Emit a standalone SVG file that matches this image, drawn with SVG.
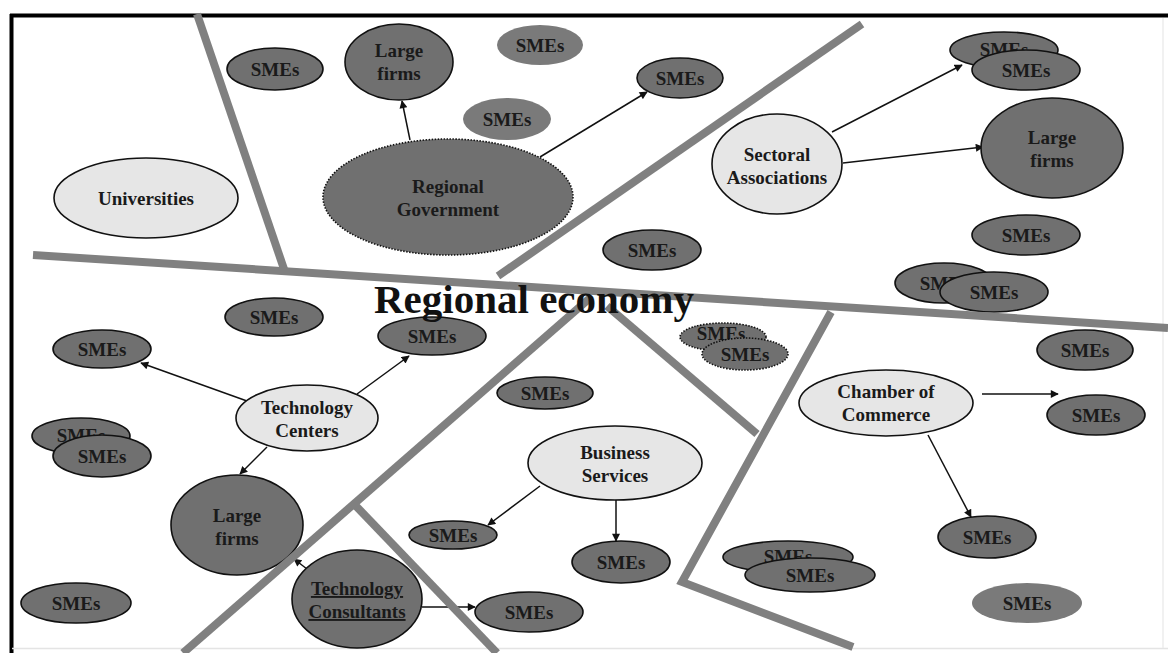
<svg xmlns="http://www.w3.org/2000/svg" width="1168" height="653" viewBox="0 0 1168 653">
<defs>
<marker id="ah" viewBox="0 0 10 10" refX="9" refY="5" markerWidth="9" markerHeight="8" markerUnits="userSpaceOnUse" orient="auto"><path d="M0,0 L10,5 L0,10 z" fill="#111"/></marker>
<style>
.d{fill:#707070;stroke:#111;stroke-width:1.6}
.dn{fill:#7a7a7a;stroke:none}
.dd{fill:#707070;stroke:#111;stroke-width:1.6;stroke-dasharray:1.5 1.5}
.l{fill:#e6e6e6;stroke:#111;stroke-width:1.6}
.t{font-family:"Liberation Serif","Times New Roman",serif;font-weight:bold;font-size:19px;fill:#1a1a1a;text-anchor:middle}
.p{stroke:#808080;stroke-width:8;fill:none;stroke-linecap:butt}
.c{stroke:#111;stroke-width:1.5;fill:none;marker-end:url(#ah)}
</style>
</defs>
<rect width="1168" height="653" fill="#fff"/>
<g id="frame">
<line x1="10" y1="15.5" x2="1168" y2="15.5" stroke="#000" stroke-width="4"/>
<line x1="11.5" y1="14" x2="11.5" y2="653" stroke="#000" stroke-width="4"/>
<line x1="12" y1="648.5" x2="1168" y2="648.5" stroke="#e4e4e4" stroke-width="1.5"/>
<line x1="1163" y1="18" x2="1163" y2="648" stroke="#ececec" stroke-width="1.5"/>
</g>
<g id="connectors">
<line class="c" x1="410" y1="140" x2="402" y2="101"/>
<line class="c" x1="540" y1="157" x2="647" y2="92"/>
<line class="c" x1="832" y1="132" x2="962" y2="65"/>
<line class="c" x1="843" y1="163" x2="983" y2="147"/>
<line class="c" x1="247" y1="401" x2="141" y2="363"/>
<line class="c" x1="357" y1="394" x2="409" y2="356"/>
<line class="c" x1="267" y1="447" x2="240" y2="474"/>
<line class="c" x1="307" y1="569" x2="294" y2="559"/>
<line class="c" x1="422" y1="607" x2="475" y2="607"/>
<line class="c" x1="540" y1="486" x2="488" y2="525"/>
<line class="c" x1="616" y1="500" x2="616" y2="541"/>
<line class="c" x1="982" y1="394" x2="1058" y2="394"/>
<line class="c" x1="928" y1="435" x2="971" y2="517"/>
</g>
<g id="n-universities"><ellipse class="l" cx="146" cy="198" rx="92" ry="40"/><text class="t" x="146" y="205">Universities</text></g>
<g id="n-smes-1"><ellipse class="d" cx="275" cy="69" rx="48" ry="21"/><text class="t" x="275" y="76">SMEs</text></g>
<g id="n-large-1"><ellipse class="d" cx="399" cy="62" rx="54" ry="38"/><text class="t" x="399" y="57">Large</text><text class="t" x="399" y="80">firms</text></g>
<g id="n-smes-2"><ellipse class="dn" cx="540" cy="45" rx="43" ry="20"/><text class="t" x="540" y="52">SMEs</text></g>
<g id="n-smes-3"><ellipse class="d" cx="680" cy="78" rx="43" ry="20"/><text class="t" x="680" y="85">SMEs</text></g>
<g id="n-smes-4"><ellipse class="dn" cx="507" cy="119" rx="44" ry="21"/><text class="t" x="507" y="126">SMEs</text></g>
<g id="n-regional-government"><ellipse class="dd" cx="448" cy="197" rx="125" ry="58"/><text class="t" x="448" y="193">Regional</text><text class="t" x="448" y="216">Government</text></g>
<g id="n-smes-5"><ellipse class="d" cx="652" cy="250" rx="49" ry="20"/><text class="t" x="652" y="257">SMEs</text></g>
<g id="n-sectoral"><ellipse class="l" cx="777" cy="164" rx="65" ry="50"/><text class="t" x="777" y="161">Sectoral</text><text class="t" x="777" y="184">Associations</text></g>
<g id="n-smes-6"><ellipse class="d" cx="1004" cy="50" rx="54" ry="18"/><text class="t" x="1004" y="56">SMEs</text><ellipse class="d" cx="1026" cy="70" rx="54" ry="20"/><text class="t" x="1026" y="77">SMEs</text></g>
<g id="n-large-2"><ellipse class="d" cx="1052" cy="148" rx="71" ry="50"/><text class="t" x="1052" y="144">Large</text><text class="t" x="1052" y="167">firms</text></g>
<g id="n-smes-7"><ellipse class="d" cx="1026" cy="235" rx="54" ry="20"/><text class="t" x="1026" y="242">SMEs</text></g>
<g id="n-smes-8"><ellipse class="d" cx="944" cy="283" rx="49" ry="20"/><text class="t" x="944" y="290">SMEs</text><ellipse class="d" cx="994" cy="292" rx="54" ry="20"/><text class="t" x="994" y="299">SMEs</text></g>
<g id="n-smes-9"><ellipse class="d" cx="1085" cy="350" rx="48" ry="20"/><text class="t" x="1085" y="357">SMEs</text></g>
<g id="n-chamber"><ellipse class="l" cx="886" cy="403" rx="87" ry="33"/><text class="t" x="886" y="398">Chamber of</text><text class="t" x="886" y="421">Commerce</text></g>
<g id="n-smes-10"><ellipse class="d" cx="1096" cy="415" rx="49" ry="20"/><text class="t" x="1096" y="422">SMEs</text></g>
<g id="n-smes-11"><ellipse class="d" cx="987" cy="537" rx="49" ry="21"/><text class="t" x="987" y="544">SMEs</text></g>
<g id="n-smes-12"><ellipse class="dn" cx="1027" cy="603" rx="55" ry="20"/><text class="t" x="1027" y="610">SMEs</text></g>
<g id="n-smes-13"><ellipse class="d" cx="788" cy="557" rx="65" ry="16"/><text class="t" x="788" y="563">SMEs</text><ellipse class="d" cx="810" cy="575" rx="65" ry="17"/><text class="t" x="810" y="582">SMEs</text></g>
<g id="n-smes-14"><ellipse class="dd" cx="723" cy="337" rx="43" ry="14"/><text class="t" x="721" y="340">SMEs</text><ellipse class="dd" cx="745" cy="354" rx="43" ry="16"/><text class="t" x="745" y="361">SMEs</text></g>
<g id="n-smes-15"><ellipse class="d" cx="545" cy="393" rx="48" ry="16"/><text class="t" x="545" y="400">SMEs</text></g>
<g id="n-business"><ellipse class="l" cx="615" cy="463" rx="87" ry="37"/><text class="t" x="615" y="459">Business</text><text class="t" x="615" y="482">Services</text></g>
<g id="n-smes-16"><ellipse class="d" cx="453" cy="535" rx="44" ry="14"/><text class="t" x="453" y="542">SMEs</text></g>
<g id="n-smes-17"><ellipse class="d" cx="621" cy="562" rx="49" ry="21"/><text class="t" x="621" y="569">SMEs</text></g>
<g id="n-smes-18"><ellipse class="d" cx="529" cy="612" rx="54" ry="20"/><text class="t" x="529" y="619">SMEs</text></g>
<g id="n-tech-consultants"><ellipse class="d" cx="357" cy="599" rx="65" ry="49"/><text class="t" x="357" y="595" text-decoration="underline">Technology</text><text class="t" x="357" y="618" text-decoration="underline">Consultants</text></g>
<g id="n-large-3"><ellipse class="d" cx="237" cy="525" rx="66" ry="50"/><text class="t" x="237" y="522">Large</text><text class="t" x="237" y="545">firms</text></g>
<g id="n-smes-19"><ellipse class="d" cx="76" cy="603" rx="55" ry="20"/><text class="t" x="76" y="610">SMEs</text></g>
<g id="n-smes-20"><ellipse class="d" cx="81" cy="436" rx="49" ry="18"/><text class="t" x="81" y="442">SMEs</text><ellipse class="d" cx="102" cy="456" rx="49" ry="21"/><text class="t" x="102" y="463">SMEs</text></g>
<g id="n-tech-centers"><ellipse class="l" cx="307" cy="418" rx="71" ry="33"/><text class="t" x="307" y="414">Technology</text><text class="t" x="307" y="437">Centers</text></g>
<g id="n-smes-21"><ellipse class="d" cx="102" cy="349" rx="49" ry="19"/><text class="t" x="102" y="356">SMEs</text></g>
<g id="n-smes-22"><ellipse class="d" cx="274" cy="317" rx="49" ry="19"/><text class="t" x="274" y="324">SMEs</text></g>
<g id="n-smes-23"><ellipse class="d" cx="432" cy="336" rx="54" ry="19"/><text class="t" x="432" y="343">SMEs</text></g>
<g id="partitions">
<line class="p" x1="197" y1="14" x2="285" y2="272"/>
<line class="p" x1="33" y1="255" x2="1168" y2="328"/>
<line class="p" x1="862" y1="24" x2="498" y2="276"/>
<line class="p" x1="183" y1="653" x2="590" y2="298"/>
<line class="p" x1="355" y1="505" x2="497" y2="653"/>
<line class="p" x1="607" y1="306" x2="757" y2="434"/>
<polyline class="p" points="831,312 682,582 853,647"/>
</g>
<g id="title"><text x="534" y="313" font-family="'Liberation Serif','Times New Roman',serif" font-weight="bold" font-size="41" fill="#111" text-anchor="middle">Regional economy</text></g>
</svg>
